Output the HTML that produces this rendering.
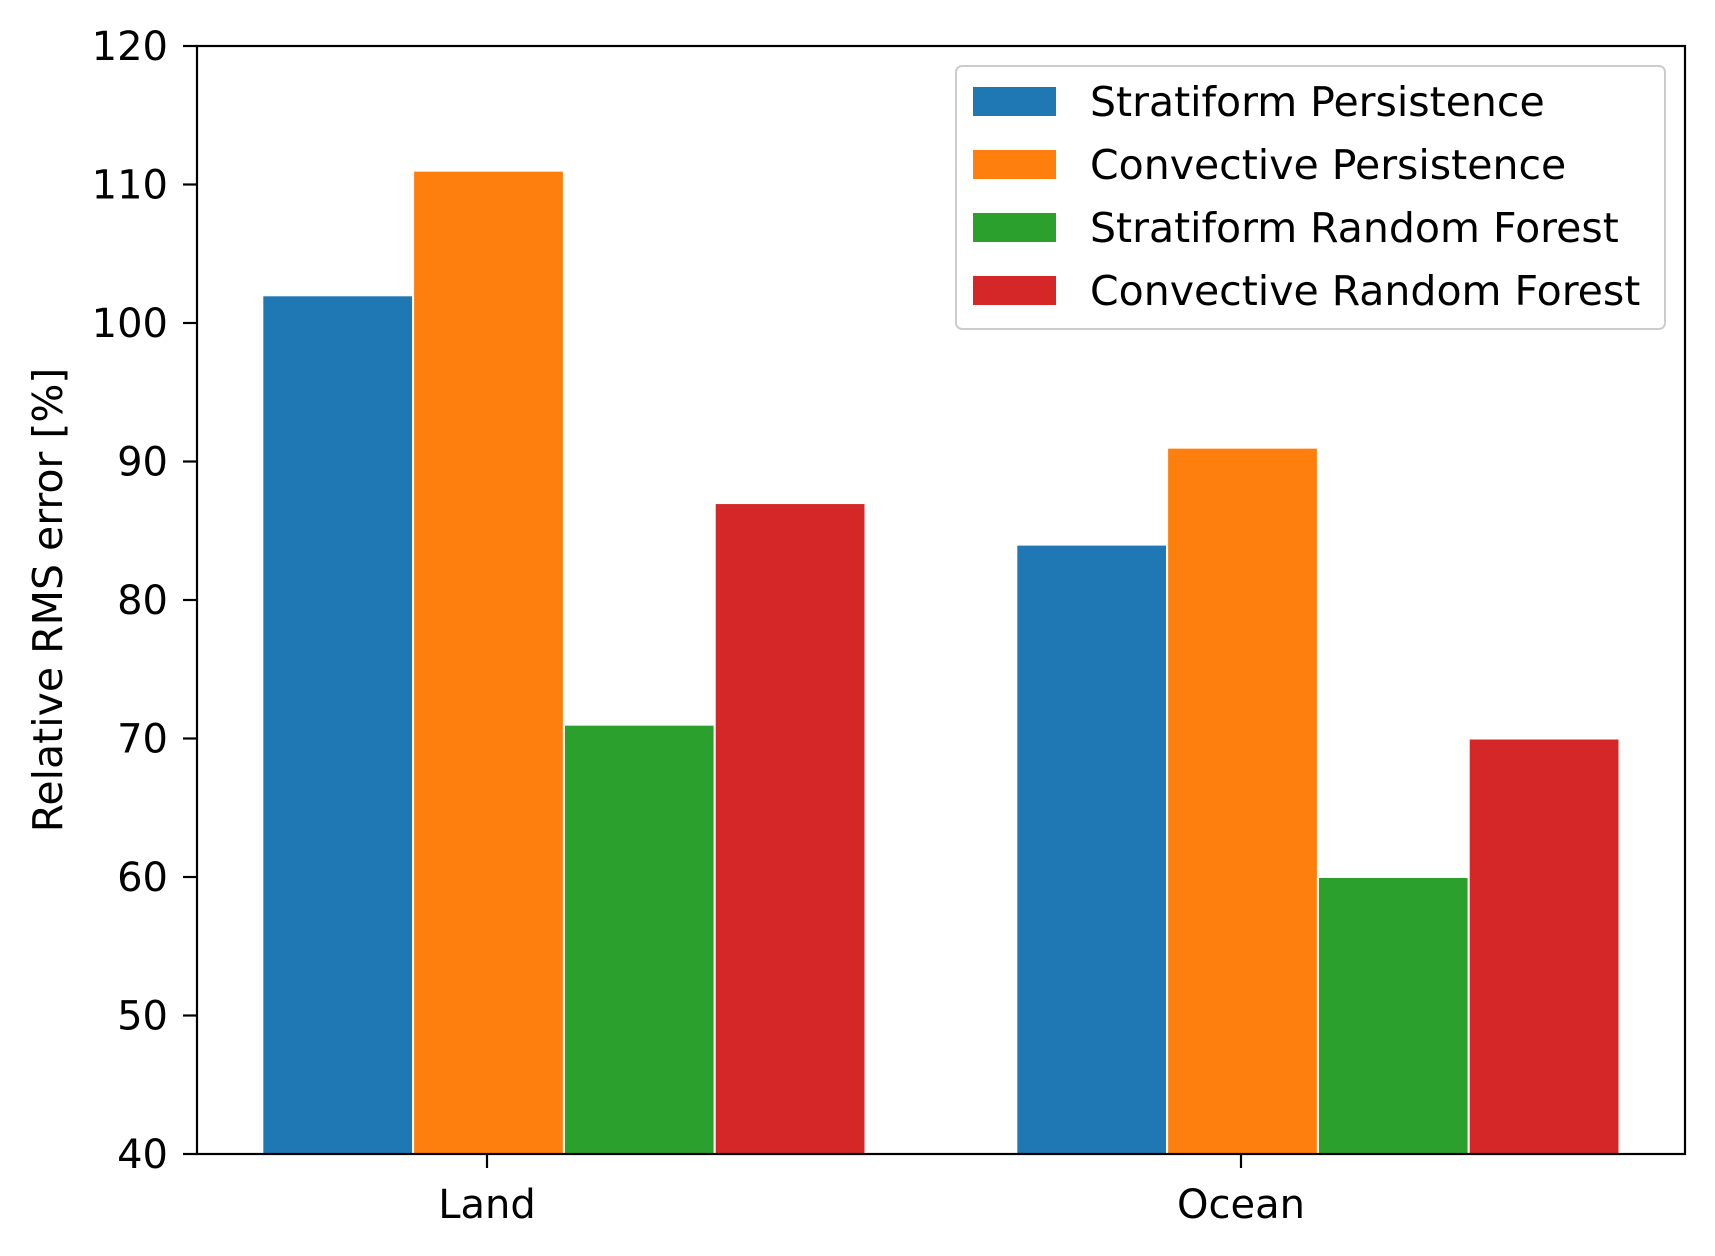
<!DOCTYPE html>
<html><head><meta charset="utf-8"><style>
html,body{margin:0;padding:0;background:#fff;}
svg{display:block;font-family:"DejaVu Sans","Liberation Sans",sans-serif;}
</style></head><body>
<svg id="chart" width="1715" height="1256" viewBox="0 0 1715 1256"></svg>
<script>
const categories = ["Land", "Ocean"];
const seriesNames = ["Stratiform Persistence", "Convective Persistence", "Stratiform Random Forest", "Convective Random Forest"];
const stratPersist = [102, 84];
const convPersist = [111, 91];
const stratRF = [71, 60];
const convRF = [87, 70];
const yTicks = [40, 50, 60, 70, 80, 90, 100, 110, 120];

const series = [stratPersist, convPersist, stratRF, convRF];
const colors = ["#1f77b4", "#ff7f0e", "#2ca02c", "#d62728"];
const L = 197, R = 1685, T = 46, B = 1154;
const yMin = 40, yMax = 120;
const y = v => B - (v - yMin) / (yMax - yMin) * (B - T);
const x0 = 487, unit = 754;
const x = c => x0 + c * unit;
const barW = 0.2;
const groupOffset = 0.102;
const NS = "http://www.w3.org/2000/svg";
const svg = document.getElementById("chart");
function mk(tag, attrs, parent) {
  const e = document.createElementNS(NS, tag);
  for (const k in attrs) e.setAttribute(k, attrs[k]);
  (parent || svg).appendChild(e);
  return e;
}
// bars
series.forEach((vals, s) => {
  vals.forEach((v, c) => {
    const cx = x(c + groupOffset + (s - 1.5) * barW);
    const w = barW * unit;
    const r = mk("rect", {x: cx - w / 2, y: y(v), width: w, height: B - y(v), fill: colors[s], stroke: "#fff", "stroke-width": 2});
    
    
  });
});
// axes frame
const frame = mk("rect", {x: L, y: T, width: R - L, height: B - T, fill: "none", stroke: "#000", "stroke-width": 2.2});


// y ticks
yTicks.forEach(t => {
  const tk = mk("line", {x1: L - 14, x2: L, y1: y(t), y2: y(t), stroke: "#000", "stroke-width": 2.2});
  
  
  const tx = mk("text", {x: L - 29, y: y(t) + 14, "text-anchor": "end", "font-size": 40, fill: "#000"});
  tx.textContent = t;
  
  
});
// x ticks
categories.forEach((c, i) => {
  const tk = mk("line", {x1: x(i), x2: x(i), y1: B, y2: B + 14, stroke: "#000", "stroke-width": 2.2});
  
  
  const tx = mk("text", {x: x(i), y: B + 64, "text-anchor": "middle", "font-size": 40, fill: "#000"});
  tx.textContent = c;
  
  
});
// y axis title
const yt = mk("text", {x: 0, y: 0, transform: "translate(62,600) rotate(-90)", "text-anchor": "middle", "font-size": 41, fill: "#000"});
yt.textContent = "Relative RMS error [%]";


// legend
const lg = mk("g", {});


mk("rect", {x: 956, y: 66, width: 709, height: 263, rx: 6, fill: "#fff", "fill-opacity": 0.8, stroke: "#ccc", "stroke-width": 2}, lg);
seriesNames.forEach((n, i) => {
  const cy = 102 + i * 63;
  const g = mk("g", {}, lg);
  
  
  mk("rect", {x: 973, y: cy - 15, width: 83, height: 29, fill: colors[i]}, g);
  const t = mk("text", {x: 1090, y: cy + 14, "font-size": 41, fill: "#000"}, g);
  t.textContent = n;
});
</script>
</body></html>
